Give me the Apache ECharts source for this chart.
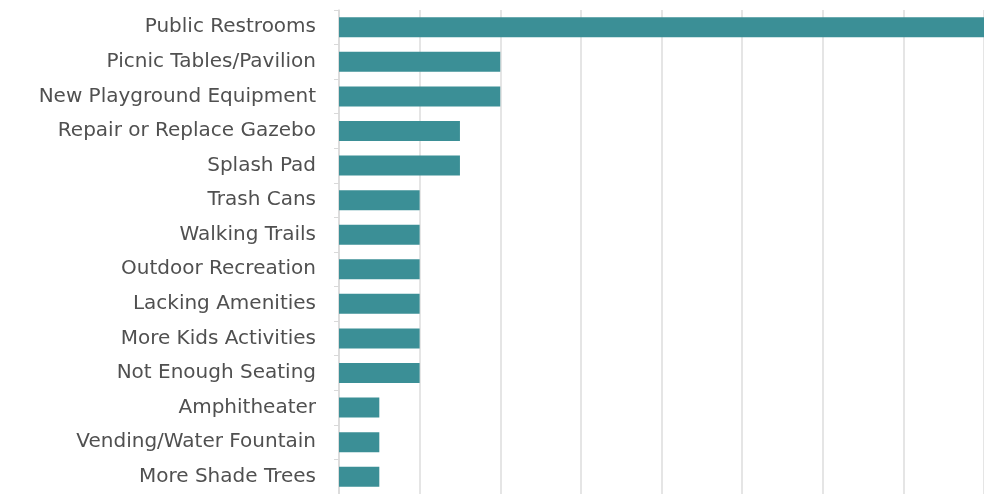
<!DOCTYPE html>
<html>
<head>
<meta charset="utf-8">
<script src="https://cdn.jsdelivr.net/npm/echarts@6/dist/echarts.min.js"></script>
<style>
  html, body { margin: 0; padding: 0; background: #ffffff; }
  #chart { width: 984px; height: 494px; }
</style>
</head>
<body>
<div id="chart"></div>
<script>
// Requested park improvements, listed top to bottom
const categories = [
  'Public Restrooms',
  'Picnic Tables/Pavilion',
  'New Playground Equipment',
  'Repair or Replace Gazebo',
  'Splash Pad',
  'Trash Cans',
  'Walking Trails',
  'Outdoor Recreation',
  'Lacking Amenities',
  'More Kids Activities',
  'Not Enough Seating',
  'Amphitheater',
  'Vending/Water Fountain',
  'More Shade Trees'
];
const responses = [16, 4, 4, 3, 3, 2, 2, 2, 2, 2, 2, 1, 1, 1];
const axisMax = 16;
const axisStep = 2;

const chart = echarts.init(document.getElementById('chart'), null, { renderer: 'canvas' });
chart.setOption({
  animation: false,
  backgroundColor: '#ffffff',
  grid: { left: 339, right: 0, top: 10, bottom: -3, containLabel: false },
  xAxis: {
    type: 'value',
    min: 0,
    max: axisMax,
    interval: axisStep,
    axisLabel: { show: false },
    axisLine: { show: false },
    axisTick: { show: false },
    splitLine: { show: true, lineStyle: { color: '#dcdcdc', width: 1.5 } }
  },
  yAxis: {
    type: 'category',
    data: categories,
    inverse: true,
    axisLine: { show: true, lineStyle: { color: '#d9d9d9', width: 1.5 } },
    axisTick: { show: true, length: 5, lineStyle: { color: '#d9d9d9' } },
    axisLabel: {
      color: '#505050',
      fontFamily: 'DejaVu Sans',
      fontSize: 20,
      margin: 23,
      padding: [4, 0, 0, 0]
    }
  },
  series: [{
    type: 'bar',
    data: responses,
    barWidth: 20,
    itemStyle: { color: '#3b8f96' }
  }]
});
</script>
</body>
</html>
